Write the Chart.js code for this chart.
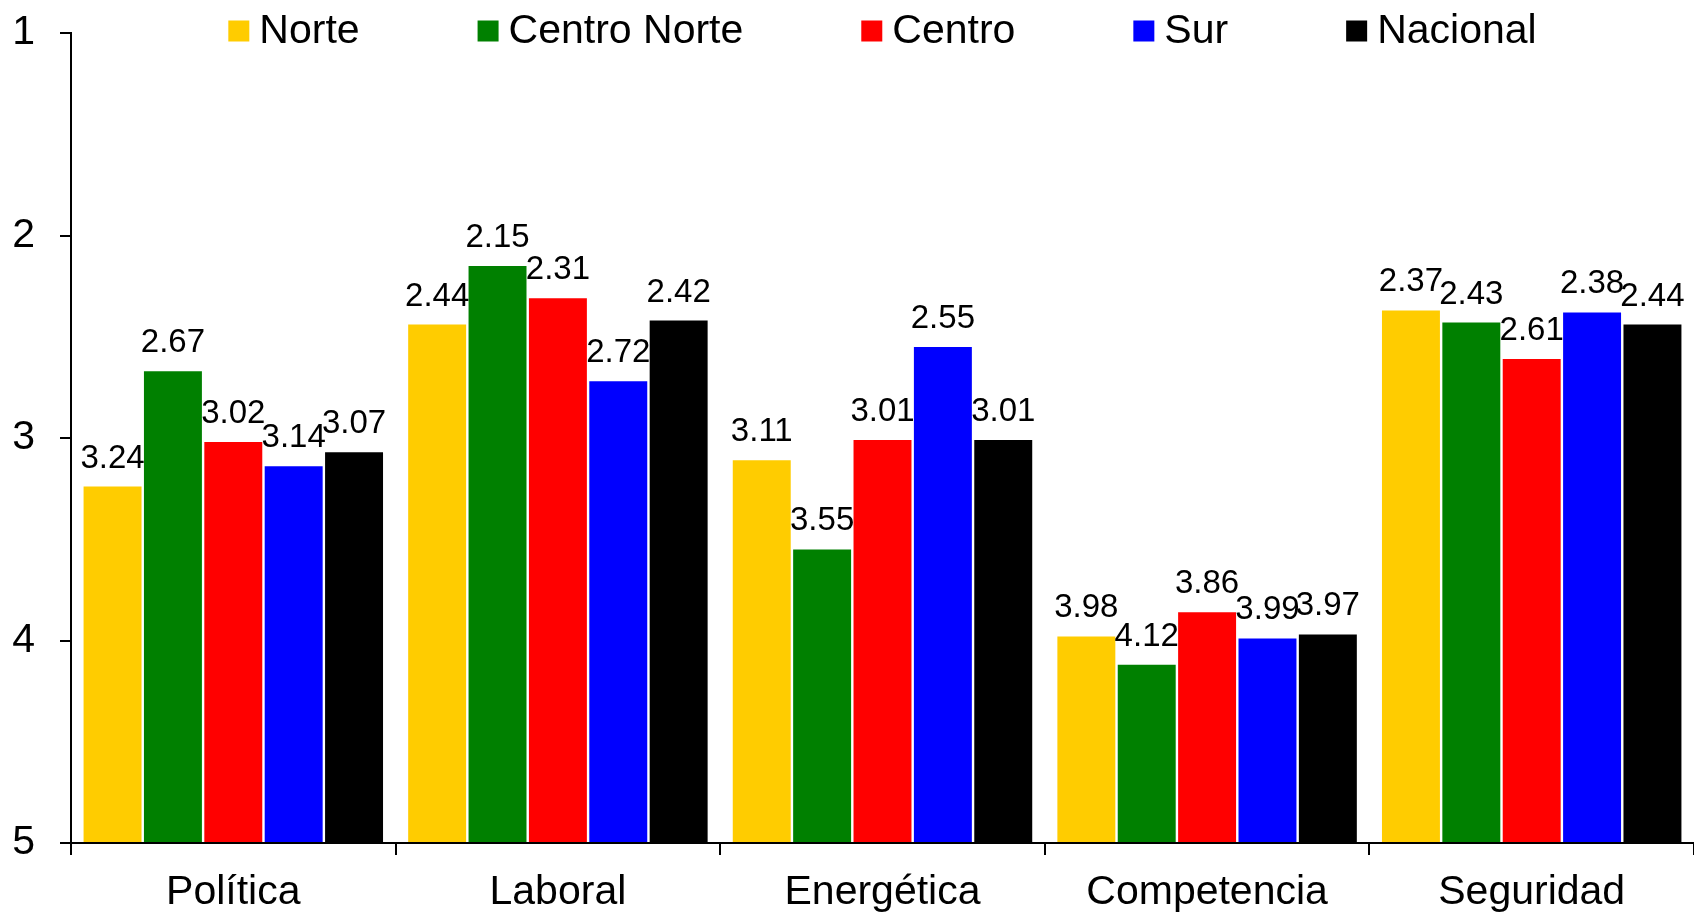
<!DOCTYPE html>
<html>
<head>
<meta charset="utf-8">
<script src="https://cdn.jsdelivr.net/npm/chart.js@4.4.1/dist/chart.umd.min.js"></script>
<style>
  html, body { margin: 0; padding: 0; background: #fff; }
  #wrap { width: 1694px; height: 915px; }
</style>
</head>
<body>
<div id="wrap"><canvas id="chartRegiones"></canvas></div>
<script>
const categorias = ['Política', 'Laboral', 'Energética', 'Competencia', 'Seguridad'];
const norte = [3.24, 2.44, 3.11, 3.98, 2.37];
const centroNorte = [2.67, 2.15, 3.55, 4.12, 2.43];
const centro = [3.02, 2.31, 3.01, 3.86, 2.61];
const sur = [3.14, 2.72, 2.55, 3.99, 2.38];
const nacional = [3.07, 2.42, 3.01, 3.97, 2.44];
const yTicks = [1, 2, 3, 4, 5];

const FONT = '"Liberation Sans", Arial, sans-serif';
Chart.defaults.font.family = FONT;
Chart.defaults.color = '#000';

// etiquetas de valor encima de cada barra
const etiquetas = {
    id: 'etiquetas',
    afterDatasetsDraw(chart) {
        const ctx = chart.ctx;
        ctx.save();
        ctx.font = '33px ' + FONT;
        ctx.fillStyle = '#000';
        ctx.textAlign = 'center';
        ctx.textBaseline = 'alphabetic';
        chart.data.datasets.forEach((ds, i) => {
            chart.getDatasetMeta(i).data.forEach((bar, j) => {
                ctx.fillText(ds.data[j].toFixed(2), bar.x, bar.y - 19);
            });
        });
        ctx.restore();
    }
};

// leyenda dibujada dentro del área del gráfico (como en Excel)
const leyenda = {
    id: 'leyenda',
    afterDraw(chart) {
        const ctx = chart.ctx;
        const area = chart.chartArea;
        const box = 21, gapText = 10, gapItem = 118, yc = 31;
        ctx.save();
        ctx.font = '41px ' + FONT;
        const items = chart.data.datasets.map(ds => ({
            text: ds.label, color: ds.backgroundColor, w: ctx.measureText(ds.label).width
        }));
        const total = items.reduce((s, it) => s + box + gapText + it.w, 0) + gapItem * (items.length - 1);
        let x = (area.left + area.right) / 2 - total / 2;
        ctx.textBaseline = 'middle';
        ctx.textAlign = 'left';
        items.forEach(it => {
            ctx.fillStyle = it.color;
            ctx.fillRect(x, yc - box / 2, box, box);
            ctx.fillStyle = '#000';
            ctx.fillText(it.text, x + box + gapText, yc + 1);
            x += box + gapText + it.w + gapItem;
        });
        ctx.restore();
    }
};

const series = [
    { label: 'Norte', data: norte, color: '#FFCC00' },
    { label: 'Centro Norte', data: centroNorte, color: '#008000' },
    { label: 'Centro', data: centro, color: '#FF0000' },
    { label: 'Sur', data: sur, color: '#0000FF' },
    { label: 'Nacional', data: nacional, color: '#000000' }
];

const ctxReg = document.getElementById('chartRegiones').getContext('2d');
new Chart(ctxReg, {
    type: 'bar',
    data: {
        labels: categorias,
        datasets: series.map(s => ({
            label: s.label,
            data: s.data,
            backgroundColor: s.color,
            base: 5,
            categoryPercentage: 0.93,
            barPercentage: 0.96
        }))
    },
    options: {
        responsive: true,
        maintainAspectRatio: false,
        animation: false,
        layout: { padding: { top: 33, left: 0, right: 0, bottom: 0 } },
        scales: {
            x: {
                grid: { drawOnChartArea: false, drawTicks: true, tickLength: 12, color: '#000', lineWidth: 2, offset: true },
                border: { color: '#000', width: 2 },
                ticks: { font: { size: 41, lineHeight: 1 }, padding: 17, color: '#000' },
                afterFit: (scale) => { scale.height = 72; }
            },
            y: {
                min: 1,
                max: 5,
                reverse: true,
                afterBuildTicks: (scale) => { scale.ticks = yTicks.map(v => ({ value: v })); },
                grid: { drawOnChartArea: false, drawTicks: true, tickLength: 11, color: '#000', lineWidth: 2 },
                border: { color: '#000', width: 2 },
                ticks: { font: { size: 41, lineHeight: 1 }, padding: 25, color: '#000' },
                afterFit: (scale) => {
                    scale.width = 71;
                    scale.paddingTop = 0;
                    scale.paddingBottom = 0;
                }
            }
        },
        plugins: {
            legend: { display: false },
            tooltip: { enabled: false }
        }
    },
    plugins: [etiquetas, leyenda]
});
</script>
</body>
</html>
